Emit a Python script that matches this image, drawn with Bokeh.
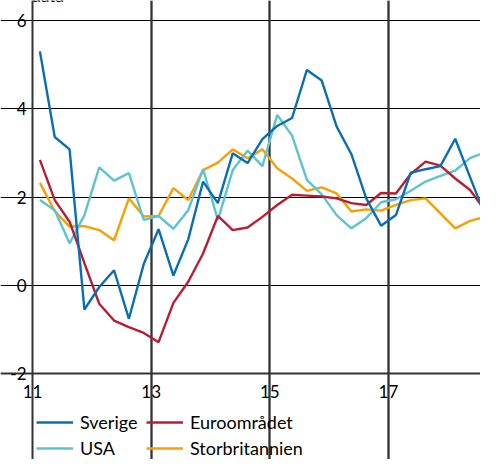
from bokeh.plotting import figure
from bokeh.models import (Range1d, FixedTicker, Legend, LegendItem, ColumnDataSource,
                          Grid, Label)
from bokeh.core.properties import value
from bokeh.embed import file_html
from bokeh.resources import INLINE

quarters = [f"{y}K{q}" for y in range(2011, 2019) for q in range(1, 5)]

sverige = [5.30, 3.36, 3.08, -0.55,
           -0.04, 0.34, -0.76, 0.48,
           1.27, 0.22, 1.04, 2.35,
           1.86, 2.99, 2.77, 3.31,
           3.61, 3.79, 4.88, 4.64,
           3.60, 2.97, 1.97, 1.35,
           1.59, 2.55, 2.63, 2.70,
           3.32, 2.45, 1.59, 2.43]

euroomradet = [2.84, 1.93, 1.44, 0.50,
               -0.42, -0.80, -0.95, -1.08,
               -1.29, -0.40, 0.08, 0.72,
               1.57, 1.25, 1.31, 1.55,
               1.82, 2.05, 2.03, 2.01,
               1.97, 1.86, 1.82, 2.09,
               2.08, 2.52, 2.80, 2.71,
               2.42, 2.16, 1.70, 1.10]

usa = [1.93, 1.70, 0.95, 1.59,
       2.67, 2.37, 2.54, 1.48,
       1.57, 1.28, 1.70, 2.63,
       1.48, 2.61, 3.05, 2.70,
       3.86, 3.39, 2.39, 2.06,
       1.59, 1.29, 1.52, 1.88,
       1.95, 2.14, 2.35, 2.48,
       2.60, 2.88, 3.01, 3.10]

storbritannien = [2.32, 1.68, 1.33, 1.34,
                  1.25, 1.02, 1.97, 1.56,
                  1.57, 2.20, 1.93, 2.61,
                  2.78, 3.08, 2.88, 3.08,
                  2.65, 2.42, 2.14, 2.22,
                  2.08, 1.67, 1.72, 1.69,
                  1.82, 1.93, 1.97, 1.63,
                  1.29, 1.46, 1.55, 1.40]

x_ticks = [11, 13, 15, 17, 19]
x_tick_labels = ["11", "13", "15", "17", "19"]
y_ticks = [-2, 0, 2, 4, 6]
y_tick_labels = ["-2", "0", "2", "4", "6"]
unit_text = "data"

xs = [int(s[2:4]) + (int(s[-1]) - 0.5) / 4 for s in quarters]

FONT = "Lato"

# ---- layout (pixels within the canvas) ----
W, H = 480, 459
AXIS_X = 32             # canvas x of the value 11
PLOT_TOP = 20           # canvas y of the value 6
PLOT_BOTTOM = 373       # canvas y of the value -2
PX_PER_YEAR = 59.33
ppu = (PLOT_BOTTOM - PLOT_TOP) / (y_ticks[-1] - y_ticks[0])
y_end = y_ticks[-1] + PLOT_TOP / ppu
y_start = y_ticks[0] - (H - PLOT_BOTTOM) / ppu
x_start = x_ticks[0] - AXIS_X / PX_PER_YEAR
x_end = x_ticks[0] + (W - AXIS_X) / PX_PER_YEAR

p = figure(width=W, height=H, output_backend="svg", toolbar_location=None,
           x_range=Range1d(x_start, x_end), y_range=Range1d(y_start, y_end),
           min_border_left=0, min_border_right=0, min_border_top=0,
           min_border_bottom=0)
p.background_fill_color = "white"
p.border_fill_color = "white"
p.outline_line_color = None
p.xaxis.visible = False
p.yaxis.visible = False

# vertical grid lines (grey) between -2 and 6
p.xgrid.ticker = FixedTicker(ticks=x_ticks[1:])
p.xgrid.bounds = (y_ticks[0], y_ticks[-1])
p.xgrid.grid_line_color = "#808080"
p.xgrid.grid_line_width = 2
# horizontal grid lines (black) from the y axis to the right
p.ygrid.ticker = FixedTicker(ticks=y_ticks[1:])
p.ygrid.bounds = (x_ticks[0], x_end)
p.ygrid.grid_line_color = "black"
p.ygrid.grid_line_width = 1

# y axis line at 11 and x axis line at -2
y_axis_line = Grid(dimension=0, ticker=FixedTicker(ticks=x_ticks[:1]),
                   bounds=(y_ticks[0], y_ticks[-1]),
                   grid_line_color="#333333", grid_line_width=2)
x_axis_line = Grid(dimension=1, ticker=FixedTicker(ticks=y_ticks[:1]),
                   bounds=(x_ticks[0], x_end),
                   grid_line_color="#333333", grid_line_width=2)
# short dark tick marks inside the top edge
top_ticks = Grid(dimension=0, ticker=FixedTicker(ticks=x_ticks[1:]),
                 bounds=(y_ticks[-1] - 9 / ppu, y_ticks[-1]),
                 grid_line_color="#333333", grid_line_width=2)
p.add_layout(y_axis_line)
p.add_layout(x_axis_line)
p.add_layout(top_ticks)

src = ColumnDataSource(dict(x=xs, se=sverige, eu=euroomradet, us=usa, uk=storbritannien))

LW = 2.4
r_uk = p.line("x", "uk", source=src, line_color="#f5a005", line_width=LW)
r_us = p.line("x", "us", source=src, line_color="#5ec3d1", line_width=LW)
r_eu = p.line("x", "eu", source=src, line_color="#b81e33", line_width=LW)
r_se = p.line("x", "se", source=src, line_color="#0a6eb4", line_width=LW)

# tick labels
vis = [i for i, t in enumerate(x_ticks) if t <= x_end]
xt_src = ColumnDataSource(dict(x=[x_ticks[i] for i in vis],
                               y=[y_ticks[0]] * len(vis),
                               t=[x_tick_labels[i] for i in vis]))
p.text("x", "y", text="t", source=xt_src, y_offset=11.5, text_align="center",
       text_baseline="top", text_font=value(FONT), text_font_size="17px",
       text_color="black")
yt_src = ColumnDataSource(dict(x=[x_ticks[0]] * len(y_ticks), y=y_ticks,
                               t=y_tick_labels))
p.text("x", "y", text="t", source=yt_src, x_offset=-6, text_align="right",
       text_baseline="middle", text_font=value(FONT), text_font_size="17px",
       text_color="black")

def make_legend(items, loc):
    return Legend(items=items, location=loc, orientation="vertical",
                  border_line_color=None, background_fill_alpha=0,
                  padding=0, margin=0, spacing=4, glyph_width=37,
                  glyph_height=18, label_height=18, label_standoff=7,
                  label_text_font=FONT, label_text_font_size="18px",
                  label_text_color="black")

leg_a = make_legend([LegendItem(label="Sverige", renderers=[r_se]),
                     LegendItem(label="USA", renderers=[r_us])], (36, 0))
leg_b = make_legend([LegendItem(label="Euroområdet", renderers=[r_eu]),
                     LegendItem(label="Storbritannien", renderers=[r_uk])], (146, 0))
p.add_layout(leg_a)
p.add_layout(leg_b)

lbl = Label(x=31, y=H + 5, x_units="screen", y_units="screen", text=unit_text,
            text_font=FONT, text_font_size="17px", text_baseline="alphabetic",
            text_color="black")
p.add_layout(lbl)

open("out.html", "w").write(file_html(p, INLINE))
